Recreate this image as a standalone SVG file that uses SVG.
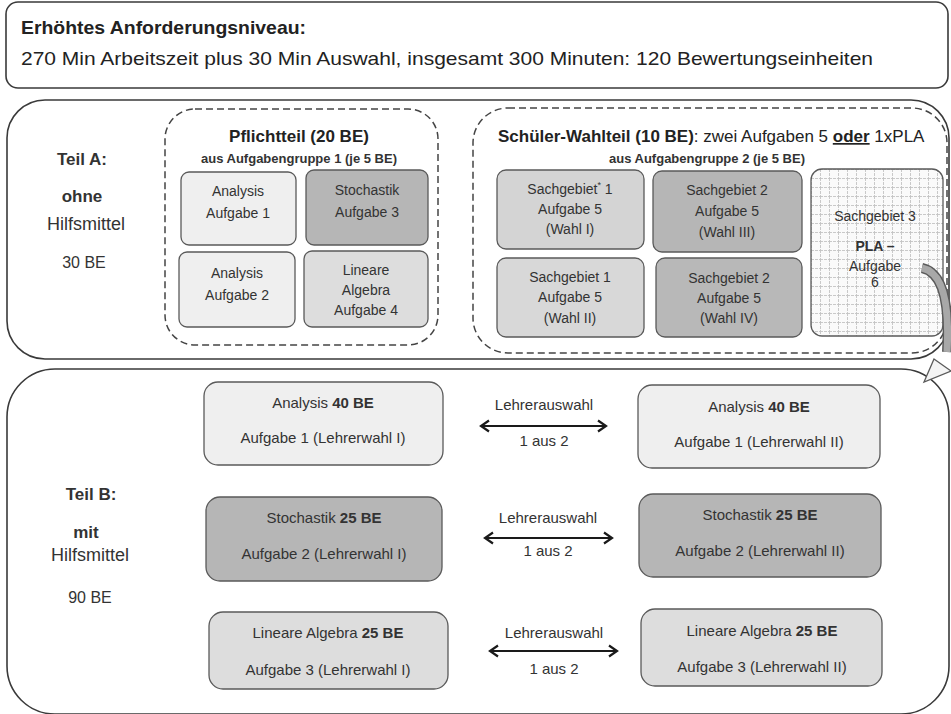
<svg xmlns="http://www.w3.org/2000/svg" width="951" height="714" viewBox="0 0 951 714">
<defs>
  <style>
    text { font-family: "Liberation Sans", Arial, sans-serif; fill: #333; }
    .b { font-weight: bold; }
    .t14 { font-size: 14px; }
    .t15 { font-size: 15px; }
    .mid { text-anchor: middle; }
    .outer { fill: #fff; stroke: #3a3a3a; stroke-width: 1.6; }
    .dash { fill: none; stroke: #444; stroke-width: 1.5; stroke-dasharray: 7 4; }
    .box { stroke: #5a5a5a; stroke-width: 1.3; }
    .c1 { fill: #efefef; }
    .c2 { fill: #b6b6b6; }
    .c3 { fill: #dddddd; }
    .c4 { fill: #d4d4d4; }
    .dbl { fill: none; stroke: #1a1a1a; stroke-width: 2.2; marker-start: url(#chev); marker-end: url(#chev); }
  </style>
  <marker id="chev" markerUnits="userSpaceOnUse" markerWidth="14" markerHeight="14" refX="11" refY="7" orient="auto-start-reverse" viewBox="0 0 14 14">
    <path d="M3,1.5 L11,7 L3,12.5" fill="none" stroke="#1a1a1a" stroke-width="2.2"/>
  </marker>
  <pattern id="grid" width="9" height="9" patternUnits="userSpaceOnUse" x="811" y="169">
    <rect width="9" height="9" fill="#fafafa"/>
    <path d="M0,0.5 H9 M0.5,0 V9" fill="none" stroke="#c4c4c4" stroke-width="0.9" stroke-dasharray="3 1"/>
  </pattern>
</defs>

<g id="header">
  <rect x="6" y="2" width="942" height="86" rx="12" class="outer"/>
  <text x="21" y="34" class="b" font-size="18.5" textLength="285" lengthAdjust="spacingAndGlyphs" style="fill:#222">Erhöhtes Anforderungsniveau:</text>
  <text x="21" y="65" font-size="19" textLength="852" lengthAdjust="spacingAndGlyphs" style="fill:#222">270 Min Arbeitszeit plus 30 Min Auswahl, insgesamt 300 Minuten: 120 Bewertungseinheiten</text>
</g>

<g id="teilA">
  <rect x="7" y="100" width="942" height="259" rx="38" class="outer"/>
  <text x="82" y="165" class="b mid" font-size="17">Teil A:</text>
  <text x="82" y="202" class="b mid" font-size="17">ohne</text>
  <text x="86" y="230" class="mid" font-size="18">Hilfsmittel</text>
  <text x="84" y="268" class="mid" font-size="16">30 BE</text>
</g>

<g id="pflichtteil">
  <rect x="165" y="109" width="273" height="236" rx="30" class="dash"/>
  <text x="299" y="142" class="b mid" font-size="17" style="fill:#222">Pflichtteil (20 BE)</text>
  <text x="299" y="163" class="b mid" font-size="13">aus Aufgabengruppe 1 (je 5 BE)</text>
</g>

<g id="pA1">
  <rect x="181" y="172" width="115" height="73" rx="8" class="box c1"/>
  <text x="238" y="196" class="mid t14">Analysis</text>
  <text x="238" y="218" class="mid t14">Aufgabe 1</text>
</g>
<g id="pA3">
  <rect x="306" y="170" width="122" height="75" rx="8" class="box c2"/>
  <text x="367" y="195" class="mid t14">Stochastik</text>
  <text x="367" y="217" class="mid t14">Aufgabe 3</text>
</g>
<g id="pA2">
  <rect x="179" y="252" width="116" height="75" rx="8" class="box c1"/>
  <text x="237" y="278" class="mid t14">Analysis</text>
  <text x="237" y="300" class="mid t14">Aufgabe 2</text>
</g>
<g id="pA4">
  <rect x="304" y="251" width="124" height="76" rx="8" class="box c3"/>
  <text x="366" y="275" class="mid t14">Lineare</text>
  <text x="366" y="295" class="mid t14">Algebra</text>
  <text x="366" y="315" class="mid t14">Aufgabe 4</text>
</g>

<g id="wahlteil">
  <rect x="473" y="108" width="474" height="245" rx="35" class="dash"/>
  <text x="498" y="142" font-size="17" style="fill:#222"><tspan class="b">Schüler-Wahlteil (10 BE)</tspan>: zwei Aufgaben 5 <tspan class="b" text-decoration="underline">oder</tspan> 1xPLA</text>
  <text x="707" y="163" class="b mid" font-size="13">aus Aufgabengruppe 2 (je 5 BE)</text>
</g>

<g id="wI">
  <rect x="497" y="170" width="147" height="79" rx="9" class="box c4"/>
  <text x="570" y="194" class="mid t14">Sachgebiet<tspan font-size="9" dy="-6">*</tspan><tspan dy="6"> 1</tspan></text>
  <text x="570" y="214" class="mid t14">Aufgabe 5</text>
  <text x="570" y="234" class="mid t14">(Wahl I)</text>
</g>
<g id="wIII">
  <rect x="653" y="171" width="149" height="81" rx="9" class="box c2"/>
  <text x="727" y="195" class="mid t14">Sachgebiet 2</text>
  <text x="727" y="216" class="mid t14">Aufgabe 5</text>
  <text x="727" y="237" class="mid t14">(Wahl III)</text>
</g>
<g id="wII">
  <rect x="497" y="258" width="147" height="79" rx="9" class="box" style="fill:#d8d8d8"/>
  <text x="570" y="282" class="mid t14">Sachgebiet 1</text>
  <text x="570" y="302" class="mid t14">Aufgabe 5</text>
  <text x="570" y="323" class="mid t14">(Wahl II)</text>
</g>
<g id="wIV">
  <rect x="656" y="258" width="146" height="79" rx="9" class="box" style="fill:#b8b8b8"/>
  <text x="729" y="283" class="mid t14">Sachgebiet 2</text>
  <text x="729" y="303" class="mid t14">Aufgabe 5</text>
  <text x="729" y="323" class="mid t14">(Wahl IV)</text>
</g>
<g id="pla">
  <rect x="811" y="169" width="132" height="167" rx="11" class="box" style="fill:url(#grid)"/>
  <text x="875" y="221" class="mid t14">Sachgebiet 3</text>
  <text x="875" y="251" class="mid t14 b">PLA –</text>
  <text x="875" y="271" class="mid t14">Aufgabe</text>
  <text x="875" y="287" class="mid t14">6</text>
</g>

<g id="teilB">
  <rect x="7" y="369" width="942" height="345" rx="48" class="outer"/>
  <text x="91" y="500" class="b mid" font-size="17">Teil B:</text>
  <text x="86" y="538" class="b mid" font-size="17">mit</text>
  <text x="90" y="561" class="mid" font-size="18">Hilfsmittel</text>
  <text x="90" y="603" class="mid" font-size="16">90 BE</text>
</g>

<g id="bA1">
  <rect x="204" y="382" width="239" height="83" rx="14" class="box c1"/>
  <text x="323" y="408" class="mid t15">Analysis <tspan class="b">40 BE</tspan></text>
  <text x="323" y="443" class="mid t15">Aufgabe 1 (Lehrerwahl I)</text>
</g>
<g id="bA2">
  <rect x="638" y="385" width="242" height="83" rx="14" class="box c1"/>
  <text x="759" y="412" class="mid t15">Analysis <tspan class="b">40 BE</tspan></text>
  <text x="759" y="447" class="mid t15">Aufgabe 1 (Lehrerwahl II)</text>
</g>
<g id="bS1">
  <rect x="206" y="497" width="236" height="84" rx="14" class="box c2"/>
  <text x="324" y="523" class="mid t15">Stochastik <tspan class="b">25 BE</tspan></text>
  <text x="324" y="559" class="mid t15">Aufgabe 2 (Lehrerwahl I)</text>
</g>
<g id="bS2">
  <rect x="639" y="494" width="242" height="83" rx="14" class="box c2"/>
  <text x="760" y="520" class="mid t15">Stochastik <tspan class="b">25 BE</tspan></text>
  <text x="760" y="556" class="mid t15">Aufgabe 2 (Lehrerwahl II)</text>
</g>
<g id="bL1">
  <rect x="209" y="612" width="239" height="77" rx="14" class="box c3"/>
  <text x="328" y="638" class="mid t15">Lineare Algebra <tspan class="b">25 BE</tspan></text>
  <text x="328" y="675" class="mid t15">Aufgabe 3 (Lehrerwahl I)</text>
</g>
<g id="bL2">
  <rect x="641" y="609" width="241" height="77" rx="14" class="box c3"/>
  <text x="762" y="636" class="mid t15">Lineare Algebra <tspan class="b">25 BE</tspan></text>
  <text x="762" y="672" class="mid t15">Aufgabe 3 (Lehrerwahl II)</text>
</g>

<g id="connectors">
  <line x1="481" y1="426" x2="606" y2="426" class="dbl"/>
  <text x="544" y="410" class="mid t15">Lehrerauswahl</text>
  <text x="544" y="446" class="mid t15">1 aus 2</text>
  <line x1="485" y1="538" x2="612" y2="538" class="dbl"/>
  <text x="548" y="523" class="mid t15">Lehrerauswahl</text>
  <text x="548" y="556" class="mid t15">1 aus 2</text>
  <line x1="490" y1="651" x2="617" y2="651" class="dbl"/>
  <text x="554" y="638" class="mid t15">Lehrerauswahl</text>
  <text x="554" y="674" class="mid t15">1 aus 2</text>
  <path d="M922,268 C942,272 950,300 947,352" fill="none" stroke="#5a5a5a" stroke-width="10"/>
  <path d="M922,268 C942,272 950,300 947,352" fill="none" stroke="#a8a8a8" stroke-width="7"/>
  <polygon points="934,359 951,371 924,382" fill="#f4f4f4" stroke="#5a5a5a" stroke-width="1.3"/>
</g>
</svg>
